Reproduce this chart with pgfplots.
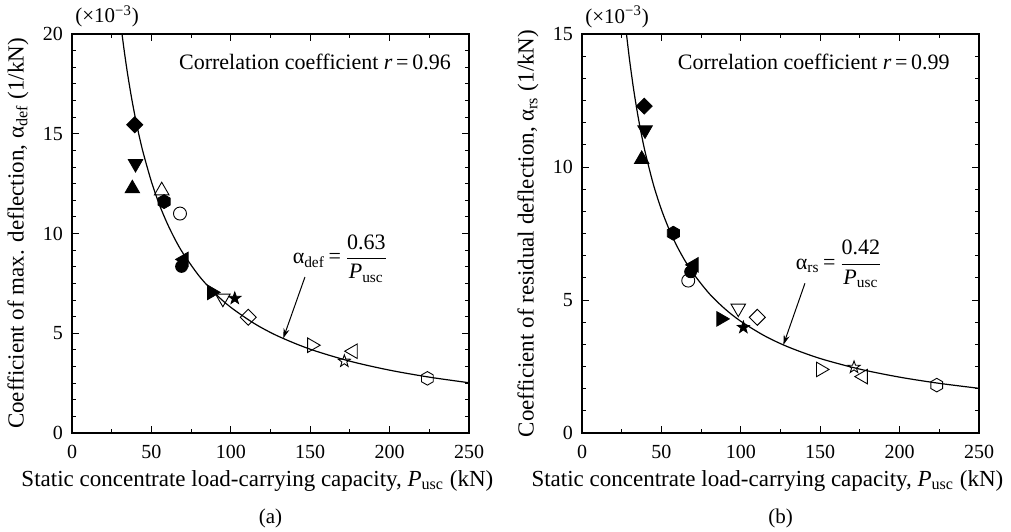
\documentclass[border=0pt]{standalone}
\usepackage{fontspec}
\setmainfont{Liberation Serif}
\usepackage{amsmath}
\usepackage{pgfplots}
\pgfplotsset{compat=1.18}
\usetikzlibrary{arrows.meta}

\pgfdeclareplotmark{hexa}{%
 \pgfpathmoveto{\pgfpointpolar{90}{\pgfplotmarksize}}%
 \pgfpathlineto{\pgfpointpolar{150}{\pgfplotmarksize}}%
 \pgfpathlineto{\pgfpointpolar{210}{\pgfplotmarksize}}%
 \pgfpathlineto{\pgfpointpolar{270}{\pgfplotmarksize}}%
 \pgfpathlineto{\pgfpointpolar{330}{\pgfplotmarksize}}%
 \pgfpathlineto{\pgfpointpolar{30}{\pgfplotmarksize}}%
 \pgfpathclose\pgfusepathqstroke}
\pgfdeclareplotmark{hexa*}{%
 \pgfpathmoveto{\pgfpointpolar{90}{\pgfplotmarksize}}%
 \pgfpathlineto{\pgfpointpolar{150}{\pgfplotmarksize}}%
 \pgfpathlineto{\pgfpointpolar{210}{\pgfplotmarksize}}%
 \pgfpathlineto{\pgfpointpolar{270}{\pgfplotmarksize}}%
 \pgfpathlineto{\pgfpointpolar{330}{\pgfplotmarksize}}%
 \pgfpathlineto{\pgfpointpolar{30}{\pgfplotmarksize}}%
 \pgfpathclose\pgfusepathqfillstroke}
\pgfdeclareplotmark{starf}{%
 \pgfpathmoveto{\pgfpointpolar{90}{\pgfplotmarksize}}%
 \pgfpathlineto{\pgfpointpolar{126}{0.4\pgfplotmarksize}}%
 \pgfpathlineto{\pgfpointpolar{162}{\pgfplotmarksize}}%
 \pgfpathlineto{\pgfpointpolar{198}{0.4\pgfplotmarksize}}%
 \pgfpathlineto{\pgfpointpolar{234}{\pgfplotmarksize}}%
 \pgfpathlineto{\pgfpointpolar{270}{0.4\pgfplotmarksize}}%
 \pgfpathlineto{\pgfpointpolar{306}{\pgfplotmarksize}}%
 \pgfpathlineto{\pgfpointpolar{342}{0.4\pgfplotmarksize}}%
 \pgfpathlineto{\pgfpointpolar{18}{\pgfplotmarksize}}%
 \pgfpathlineto{\pgfpointpolar{54}{0.4\pgfplotmarksize}}%
 \pgfpathclose\pgfusepathqfillstroke}
\pgfdeclareplotmark{staro}{%
 \pgfpathmoveto{\pgfpointpolar{90}{\pgfplotmarksize}}%
 \pgfpathlineto{\pgfpointpolar{126}{0.4\pgfplotmarksize}}%
 \pgfpathlineto{\pgfpointpolar{162}{\pgfplotmarksize}}%
 \pgfpathlineto{\pgfpointpolar{198}{0.4\pgfplotmarksize}}%
 \pgfpathlineto{\pgfpointpolar{234}{\pgfplotmarksize}}%
 \pgfpathlineto{\pgfpointpolar{270}{0.4\pgfplotmarksize}}%
 \pgfpathlineto{\pgfpointpolar{306}{\pgfplotmarksize}}%
 \pgfpathlineto{\pgfpointpolar{342}{0.4\pgfplotmarksize}}%
 \pgfpathlineto{\pgfpointpolar{18}{\pgfplotmarksize}}%
 \pgfpathlineto{\pgfpointpolar{54}{0.4\pgfplotmarksize}}%
 \pgfpathclose\pgfusepathqstroke}

\pgfplotsset{
  base/.style={
    scale only axis, width=198.5pt, height=199.5pt,
    xmin=0, xmax=250, ymin=0,
    xtick={0,50,...,250}, minor x tick num=1, minor y tick num=5,
    major tick length=3.3pt, minor tick length=1.8pt,
    tick align=inside, tick style={black, line width=0.5pt},
    axis line style={line width=0.65pt},
    clip=false,
    /pgf/number format/assume math mode=true,
    tick label style={font=\fontsize{10}{12}\selectfont},
    xticklabel style={yshift=-2.5pt},
    yticklabel style={xshift=-1pt},
    label style={font=\fontsize{11.5}{13}\selectfont},
    xlabel style={at={(axis description cs:0.467,-0.12)}, anchor=center},
    ylabel style={at={(axis description cs:-0.136,0.5)}, anchor=center, rotate=0},
    xlabel={Static concentrate load-carrying capacity, \textit{P}\textsubscript{usc} (kN)},
  },
  fpt/.style={only marks, mark options={solid, fill=black, draw=black, line width=0.4pt, #1}},
  opt/.style={only marks, mark options={solid, draw=black, fill=none, line width=0.45pt, #1}},
}

\begin{document}
\begin{tikzpicture}
\useasboundingbox (0,0) rectangle (505.5pt,265.5pt);
% ---------------- (a)
\begin{axis}[base, at={(36pt,49pt)}, anchor=south west,
  ymax=20, ytick={0,5,10,15,20},
  ylabel={Coefficient of max. deflection, α\textsubscript{def} (1/kN)}]
\addplot[black, line width=0.6pt, smooth, tension=0.5] coordinates {
 (31.5,20.00) (33,19.09) (35,18.00) (37.5,16.80) (40,15.75) (42.5,14.82) (45,14.00)
 (50,12.60) (55,11.45) (60,10.50) (65,9.69) (70,9.00) (80,7.875) (90,7.00) (100,6.30)
 (115,5.478) (130,4.846) (150,4.20) (175,3.60) (200,3.15) (225,2.80) (250,2.52)};
\addplot[fpt={rotate=45}, mark=square*, mark size=2.83pt] coordinates {(39.5,15.45)};
\addplot[fpt={rotate=180}, mark=triangle*, mark size=4.2pt] coordinates {(40,13.5)};
\addplot[fpt={}, mark=triangle*, mark size=4.2pt] coordinates {(38,12.25)};
\addplot[opt={}, mark=triangle, mark size=4.2pt] coordinates {(56.5,12.15)};
\addplot[fpt={}, mark=hexa*, mark size=3.5pt] coordinates {(58,11.6)};
\addplot[opt={}, mark=o, mark size=3.25pt] coordinates {(68,11.0)};
\addplot[fpt={}, mark=*, mark size=3pt] coordinates {(69,8.35)};
\addplot[fpt={rotate=90}, mark=triangle*, mark size=4.2pt] coordinates {(70.5,8.7)};
\addplot[fpt={rotate=-90}, mark=triangle*, mark size=4.2pt] coordinates {(88,7.05)};
\addplot[opt={rotate=180}, mark=triangle, mark size=4.2pt] coordinates {(95,6.75)};
\addplot[fpt={}, mark=starf, mark size=3.2pt] coordinates {(102.5,6.75)};
\addplot[opt={rotate=45}, mark=square, mark size=2.83pt] coordinates {(111,5.8)};
\addplot[opt={rotate=-90}, mark=triangle, mark size=4.2pt] coordinates {(151,4.4)};
\addplot[opt={}, mark=staro, mark size=3.2pt] coordinates {(171.5,3.6)};
\addplot[opt={rotate=90}, mark=triangle, mark size=4.2pt] coordinates {(177,4.1)};
\addplot[opt={}, mark=hexa, mark size=3.4pt] coordinates {(223.8,2.74)};
\draw[line width=0.5pt, -{Stealth[length=5pt,width=3pt]}] (axis cs:146.7,7.82) -- (axis cs:133,4.74);
\node[font=\fontsize{11}{12}\selectfont, inner sep=0pt] at (axis cs:169,8.75) {α\textsubscript{def}\,=\,$\dfrac{\text{0.63}}{\text{\itshape P}_{\text{usc}}}$};
\node[font=\fontsize{11}{12}\selectfont] at (axis cs:153,18.6) {Correlation coefficient \textit{r}\,=\,0.96};
\node[font=\fontsize{10.5}{12}\selectfont, anchor=base west, inner sep=0pt] at ([xshift=1.5pt,yshift=5.5pt]rel axis cs:0,1) {(×10\textsuperscript{−3})};
\node[font=\fontsize{10.5}{12}\selectfont] at (axis description cs:0.5,-0.213) {(a)};
\end{axis}
% ---------------- (b)
\begin{axis}[base, at={(291pt,49pt)}, anchor=south west,
  ymax=15, ytick={0,5,10,15},
  ylabel={Coefficient of residual deflection, α\textsubscript{rs} (1/kN)}]
\addplot[black, line width=0.6pt, smooth, tension=0.5] coordinates {
 (28,15.00) (30,14.00) (32.5,12.923) (35,12.00) (37.5,11.20) (40,10.50) (45,9.333)
 (50,8.40) (55,7.636) (60,7.00) (65,6.462) (70,6.00) (80,5.25) (90,4.667) (100,4.20)
 (115,3.652) (130,3.231) (150,2.80) (175,2.40) (200,2.10) (225,1.867) (250,1.68)};
\addplot[fpt={rotate=45}, mark=square*, mark size=2.83pt] coordinates {(39.2,12.29)};
\addplot[fpt={rotate=180}, mark=triangle*, mark size=4.2pt] coordinates {(39.7,11.39)};
\addplot[fpt={}, mark=triangle*, mark size=4.2pt] coordinates {(37.6,10.29)};
\addplot[fpt={}, mark=hexa*, mark size=3.5pt] coordinates {(57.5,7.51)};
\addplot[opt={}, mark=o, mark size=3.25pt] coordinates {(66.9,5.73)};
\addplot[fpt={}, mark=*, mark size=3pt] coordinates {(68.4,6.06)};
\addplot[fpt={rotate=90}, mark=triangle*, mark size=4.2pt] coordinates {(70.5,6.32)};
\addplot[fpt={rotate=-90}, mark=triangle*, mark size=4.2pt] coordinates {(87.5,4.29)};
\addplot[opt={rotate=180}, mark=triangle, mark size=4.2pt] coordinates {(98.4,4.69)};
\addplot[fpt={}, mark=starf, mark size=3.2pt] coordinates {(101.6,3.97)};
\addplot[opt={rotate=45}, mark=square, mark size=2.83pt] coordinates {(110.4,4.35)};
\addplot[opt={rotate=-90}, mark=triangle, mark size=4.2pt] coordinates {(150.3,2.39)};
\addplot[opt={}, mark=staro, mark size=3.2pt] coordinates {(171.3,2.47)};
\addplot[opt={rotate=90}, mark=triangle, mark size=4.2pt] coordinates {(177.1,2.12)};
\addplot[opt={}, mark=hexa, mark size=3.4pt] coordinates {(223.4,1.80)};
\draw[line width=0.5pt, -{Stealth[length=5pt,width=3pt]}] (axis cs:140.4,5.63) -- (axis cs:126.8,3.31);
\node[font=\fontsize{11}{12}\selectfont, inner sep=0pt] at (axis cs:162,6.35) {α\textsubscript{rs}\,=\,$\dfrac{\text{0.42}}{\text{\itshape P}_{\text{usc}}}$};
\node[font=\fontsize{11}{12}\selectfont] at (axis cs:146,13.95) {Correlation coefficient \textit{r}\,=\,0.99};
\node[font=\fontsize{10.5}{12}\selectfont, anchor=base west, inner sep=0pt] at ([xshift=1.5pt,yshift=5.5pt]rel axis cs:0,1) {(×10\textsuperscript{−3})};
\node[font=\fontsize{10.5}{12}\selectfont] at (axis description cs:0.5,-0.213) {(b)};
\end{axis}
\end{tikzpicture}
\end{document}
